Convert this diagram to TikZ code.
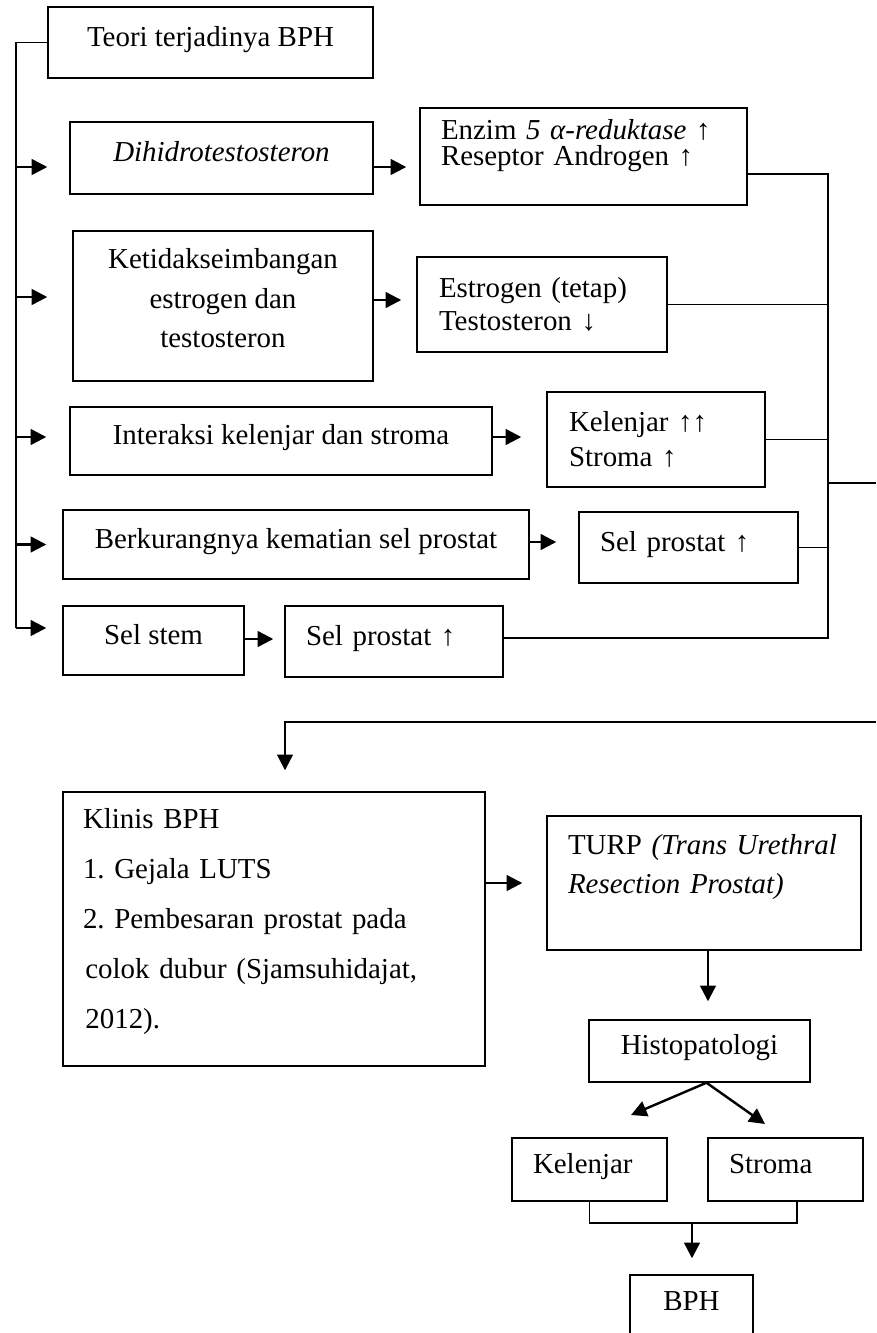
\documentclass[tikz,border=0pt]{standalone}
\usepackage{fontspec}
\setmainfont{Liberation Serif}
\usetikzlibrary{arrows.meta}
\newcommand{\upx}{0.415pt}
\newcommand{\ruang}[1]{\rule[-#1]{0pt}{0pt}}
\frenchspacing

\begin{document}
\begin{tikzpicture}[x=\upx,y=-\upx,
		kotak/.style={draw,line width=0.6pt,inner sep=0pt,font=\fontsize{12}{14}\selectfont},
		satu/.style={text height=9pt,text depth=5.7pt},
		kiri/.style={align=left,text width=#1*\upx},
		spasi/.style={font=\fontsize{12}{#1}\selectfont},
		garis/.style={line width=0.6pt},
		panah/.style={line width=1pt,-{Triangle[length=6.5pt,width=6.5pt]}}]
		\useasboundingbox (0,0) rectangle (876,1333);
		\clip (0,0) rectangle (876,1333);
		\node[kotak,satu,minimum width=325*\upx,minimum height=71*\upx] (teori) at (210.5,42.5) {Teori terjadinya BPH};
		\node[kotak,satu,minimum width=303*\upx,minimum height=72*\upx] (dht) at (221.5,158) {\textit{Dihidrotestosteron}};
		\node[kotak,kiri=285,spasi=10.8,minimum width=327*\upx,minimum height=97*\upx] (enzim) at (583.5,156.5) {Enzim \textit{5 α-reduktase} ↑\\Reseptor Androgen ↑\ruang{11.6pt}};
		\node[kotak,align=center,spasi=16.4,minimum width=300*\upx,minimum height=150*\upx] (ketidak) at (223,306) {Ketidakseimbangan\\estrogen dan\\testosteron\ruang{6.6pt}};
		\node[kotak,kiri=206,spasi=13.7,minimum width=250*\upx,minimum height=95*\upx] (estro) at (542,304.5) {Estrogen (tetap)\\Testosteron ↓};
		\node[kotak,satu,minimum width=422*\upx,minimum height=68*\upx] (interaksi) at (281,441) {Interaksi kelenjar dan stroma};
		\node[kotak,kiri=174,spasi=14.5,minimum width=218*\upx,minimum height=95*\upx] (kel) at (656,439.5) {Kelenjar ↑↑\\Stroma ↑};
		\node[kotak,satu,minimum width=466*\upx,minimum height=69*\upx] (berkurang) at (296,544.5) {Berkurangnya kematian sel prostat};
		\node[kotak,satu,kiri=177,minimum width=219*\upx,minimum height=71*\upx] (prostat1) at (688.5,547.5) {Sel prostat ↑};
		\node[kotak,satu,minimum width=181*\upx,minimum height=69*\upx] (stem) at (153.5,640.5) {Sel stem};
		\node[kotak,satu,kiri=176,minimum width=218*\upx,minimum height=71*\upx] (prostat2) at (394,641.5) {Sel prostat ↑};
		\node[kotak,kiri=382,spasi=20.8,minimum width=422*\upx,minimum height=274*\upx] (klinis) at (274,929) {Klinis BPH\\1. Gejala LUTS\\2. Pembesaran prostat pada\\\hspace*{1pt}colok dubur (Sjamsuhidajat,\\\hspace*{1pt}2012).\ruang{8.7pt}};
		\node[kotak,kiri=272,spasi=15.8,minimum width=314*\upx,minimum height=134*\upx] (turp) at (704,883) {TURP~\textit{(Trans~Urethral}\\\textit{Resection Prostat)}\ruang{15.8pt}};
		\node[kotak,satu,minimum width=221*\upx,minimum height=62*\upx] (histo) at (699.5,1051) {Histopatologi};
		\node[kotak,satu,kiri=113,minimum width=155*\upx,minimum height=63*\upx] (kelenjar) at (589.5,1169.5) {Kelenjar};
		\node[kotak,satu,kiri=113,minimum width=155*\upx,minimum height=63*\upx] (stroma) at (785.5,1169.5) {Stroma};
		\node[kotak,satu,minimum width=123*\upx,minimum height=63*\upx] (bph) at (691.5,1306.5) {BPH};
		\coordinate (cabang) at (16,42.5);
		\coordinate (kumpul) at (828,638);
		\coordinate (keluar) at (876,483);
		\coordinate (masuk) at (876,722);
		\coordinate (gabung) at (692,1223);
		\coordinate (kekiri) at (631,1115);
		\coordinate (kekanan) at (765,1124);
		\draw[garis] (teori.west) -- (cabang) -- ([yshift=12.5*\upx]stem.west -| cabang);
		\draw[panah,shorten >=22*\upx] ([yshift=-9*\upx]dht.west -| cabang) -- ([yshift=-9*\upx]dht.west);
		\draw[panah,shorten >=25*\upx] ([yshift=9*\upx]ketidak.west -| cabang) -- ([yshift=9*\upx]ketidak.west);
		\draw[panah,shorten >=23*\upx] ([yshift=4*\upx]interaksi.west -| cabang) -- ([yshift=4*\upx]interaksi.west);
		\draw[panah,shorten >=16*\upx] (berkurang.west -| cabang) -- (berkurang.west);
		\draw[panah,shorten >=16*\upx] ([yshift=12.5*\upx]stem.west -| cabang) -- ([yshift=12.5*\upx]stem.west);
		\draw[panah,shorten >=13*\upx] ([yshift=-9*\upx]dht.east) -- ([yshift=-9*\upx]dht.east -| enzim.west);
		\draw[panah,shorten >=15*\upx] ([yshift=6*\upx]ketidak.east) -- ([yshift=6*\upx]ketidak.east -| estro.west);
		\draw[panah,shorten >=25*\upx] ([yshift=4*\upx]interaksi.east) -- ([yshift=4*\upx]interaksi.east -| kel.west);
		\draw[panah,shorten >=22*\upx] ([yshift=2.5*\upx]berkurang.east) -- ([yshift=2.5*\upx]berkurang.east -| prostat1.west);
		\draw[panah,shorten >=11*\upx] ([yshift=1.5*\upx]stem.east) -- ([yshift=1.5*\upx]stem.east -| prostat2.west);
		\draw[garis] ([yshift=-17.5*\upx]enzim.east) -| (kumpul) -- (kumpul -| prostat2.east);
		\draw[garis] (estro.east) -- (estro.east -| kumpul);
		\draw[garis] (kel.east) -- (kel.east -| kumpul);
		\draw[garis] (prostat1.east) -- (prostat1.east -| kumpul);
		\draw[garis] (keluar -| kumpul) -- (keluar);
		\draw[panah,shorten >=21*\upx] (masuk) -| ([xshift=11*\upx]klinis.north);
		\draw[panah,shorten >=24*\upx] (klinis.east |- turp.west) -- (turp.west);
		\draw[panah,shorten >=18*\upx] ([xshift=4*\upx]turp.south) -- ([xshift=4*\upx]turp.south |- histo.north);
		\draw[panah] ([xshift=7*\upx]histo.south) -- (kekiri);
		\draw[panah] ([xshift=7*\upx]histo.south) -- (kekanan);
		\draw[garis] (kelenjar.south) |- (gabung) -| ([xshift=11.5*\upx]stroma.south);
		\draw[panah,shorten >=16*\upx] (gabung) -- (gabung |- bph.north);
	\end{tikzpicture}
\end{document}
